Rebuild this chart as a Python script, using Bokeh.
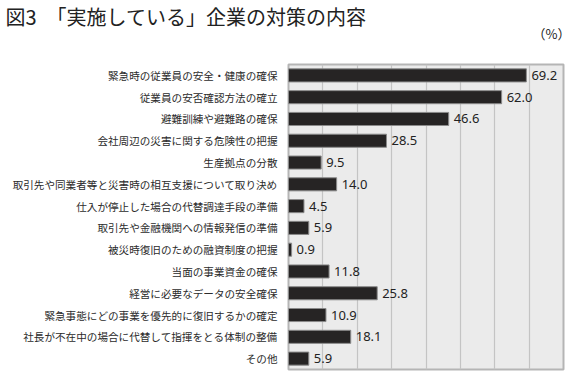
from bokeh.plotting import figure
from bokeh.models import ColumnDataSource, FactorRange, Range1d, Title, FixedTicker
from bokeh.core.properties import value
from bokeh.embed import file_html
from bokeh.resources import INLINE

title_text = "図3　「実施している」企業の対策の内容"
unit_text = "（%）"

categories = [
    "緊急時の従業員の安全・健康の確保",
    "従業員の安否確認方法の確立",
    "避難訓練や避難路の確保",
    "会社周辺の災害に関する危険性の把握",
    "生産拠点の分散",
    "取引先や同業者等と災害時の相互支援について取り決め",
    "仕入が停止した場合の代替調達手段の準備",
    "取引先や金融機関への情報発信の準備",
    "被災時復旧のための融資制度の把握",
    "当面の事業資金の確保",
    "経営に必要なデータの安全確保",
    "緊急事態にどの事業を優先的に復旧するかの確定",
    "社長が不在中の場合に代替して指揮をとる体制の整備",
    "その他",
]
values = [69.2, 62.0, 46.6, 28.5, 9.5, 14.0, 4.5, 5.9, 0.9, 11.8, 25.8, 10.9, 18.1, 5.9]
x_ticks = [0, 10, 20, 30, 40, 50, 60, 70, 80]

src = ColumnDataSource(dict(
    cat=categories,
    val=values,
    lab=[f"{v:.1f}" for v in values],
))

p = figure(
    width=576, height=375,
    y_range=FactorRange(*reversed(categories), range_padding=0),
    x_range=Range1d(0, 80),
    output_backend="svg", toolbar_location=None,
    min_border_left=288, min_border_right=13, min_border_top=0, min_border_bottom=6,
)
p.y_range.factor_padding = 0
p.background_fill_color = "#ebebeb"
p.border_fill_color = "white"
p.outline_line_color = "#b5b5b5"
p.outline_line_width = 2

p.hbar(y="cat", right="val", left=0, height=0.6, source=src,
       fill_color="#262424", line_color="#8a8a8a", line_width=1)
p.text(x="val", y="cat", text="lab", source=src, x_offset=5,
       text_baseline="middle", text_align="left",
       text_font=value("Noto Sans"), text_font_size="13px", text_color="#222222")

p.xaxis.visible = False
p.xaxis.ticker = FixedTicker(ticks=x_ticks)
p.xgrid.ticker = FixedTicker(ticks=x_ticks)
p.xgrid.grid_line_color = "#c4c4c4"
p.xgrid.grid_line_width = 1.2
p.ygrid.grid_line_color = None

yax = p.yaxis[0]
yax.axis_line_color = None
yax.major_tick_line_color = None
yax.minor_tick_line_color = None
yax.major_tick_out = 0
yax.major_tick_in = 0
yax.major_label_standoff = 11
yax.major_label_text_font = "Noto Sans CJK JP"
yax.major_label_text_font_size = "10.6px"
yax.major_label_text_color = "#2b2b2b"

# header rows, nearest the frame first: spacer, unit, main title
p.add_layout(Title(text=" ", align="right", standoff=11,
                   text_font="Noto Sans CJK JP", text_font_size="12px"), "above")
p.add_layout(Title(text=unit_text, align="right", offset=-7, standoff=-16,
                   text_font="Noto Sans CJK JP", text_font_size="13px",
                   text_font_style="normal", text_color="#222222"), "above")
p.add_layout(Title(text=title_text, align="left", offset=-283, standoff=-2,
                   text_font="Noto Sans CJK JP", text_font_size="20px",
                   text_font_style="normal", text_color="#222222"), "above")

open("out.html", "w").write(file_html(p, INLINE))
